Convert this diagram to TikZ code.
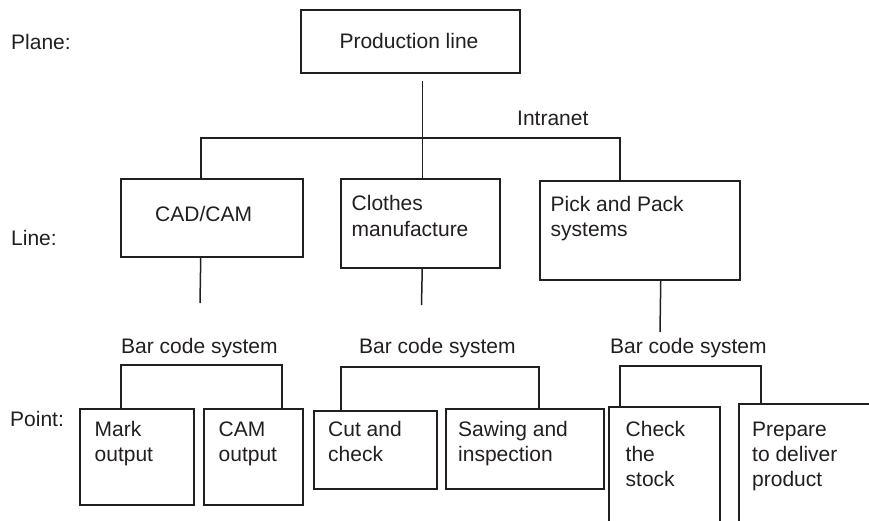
\documentclass[tikz,border=0pt]{standalone}
\usepackage{fontspec}
\setmainfont{Liberation Sans}
\usetikzlibrary{calc}
\definecolor{ink}{HTML}{231F20}
\tikzset{
  boxn/.style={draw=ink, line width=1.5pt, rectangle, inner sep=0pt, anchor=north west},
  txt/.style={text=ink, inner sep=0pt, align=left, anchor=base west, font=\fontsize{21}{25.3}\selectfont},
  wire/.style={draw=ink, line width=1.5pt}
}
\begin{document}
\begin{tikzpicture}[x=1pt,y=-1pt]
\clip (0,0) rectangle (869,520);
\fill[white] (0,0) rectangle (869,520);

% level labels
\node[txt] (planeL) at (11,49) {Plane:};
\node[txt] (lineL) at (11,245) {Line:};
\node[txt] (pointL) at (10,426) {Point:};

% boxes
\node[boxn, minimum width=219pt, minimum height=63pt] (prod) at (300,9) {};
\node[boxn, minimum width=182pt, minimum height=78pt] (cad) at (120,178) {};
\node[boxn, minimum width=159pt, minimum height=89pt] (clothes) at (340,178) {};
\node[boxn, minimum width=200pt, minimum height=99pt] (pick) at (539,180) {};
\node[boxn, minimum width=114pt, minimum height=96pt] (mark) at (79,408) {};
\node[boxn, minimum width=99pt, minimum height=96pt] (cam) at (203,408) {};
\node[boxn, minimum width=123pt, minimum height=78pt] (cut) at (313,410) {};
\node[boxn, minimum width=158pt, minimum height=80pt] (saw) at (445,408) {};
\node[boxn, minimum width=111pt, minimum height=130pt] (check) at (608,406) {};
\node[boxn, minimum width=150pt, minimum height=130pt] (prep) at (738,403) {};

% box texts (base = baseline of the last line)
\node[txt, anchor=base] (prodT) at (409,48.5) {Production line};
\node[txt] (cadT) at (155,221.5) {CAD/CAM};
\node[txt] (clothesT) at (351.5,236) {Clothes\\manufacture};
\node[txt] (pickT) at (550.5,236.3) {Pick and Pack\\systems};
\node[txt] (markT) at (94.5,461.8) {Mark\\output};
\node[txt] (camT) at (218.5,461.8) {CAM\\output};
\node[txt] (cutT) at (328,461.3) {Cut and\\check};
\node[txt] (sawT) at (458,461.3) {Sawing and\\inspection};
\node[txt] (checkT) at (625.5,486.6) {Check\\the\\stock};
\node[txt] (prepT) at (752,486.6) {Prepare\\to deliver\\product};

% network labels
\node[txt] (intranet) at (517,125) {Intranet};
\node[txt] (bar1) at (121,353) {Bar code system};
\node[txt] (bar2) at (359,353) {Bar code system};
\node[txt] (bar3) at (610,353) {Bar code system};

% intranet connectors
\draw[wire] ($(prod.south -| clothes.north)+(2,7)$) -- ($(clothes.north)+(2,0)$);
\draw[wire] ($(cad.north)+(-11,0)$) |- ($(pick.north)+(-20,-42)$) -- ($(pick.north)+(-20,0)$);

% drops to bar code systems
\coordinate (cadEnd) at (200,303);
\coordinate (clothesEnd) at (421.5,305);
\coordinate (pickEnd) at (660,332);
\draw[wire] ($(cad.south)+(-11,0)$) -- (cadEnd);
\draw[wire] ($(clothes.south)+(2,0)$) -- (clothesEnd);
\draw[wire] ($(pick.south)+(21,0)$) -- (pickEnd);

% bar code brackets
\draw[wire] ($(mark.north)+(-16,0)$) |- ($(cam.north)+(28.5,-43)$) -- ($(cam.north)+(28.5,0)$);
\draw[wire] ($(cut.north)+(-34.5,0)$) |- ($(saw.north)+(14,-41)$) -- ($(saw.north)+(14,0)$);
\draw[wire] ($(check.north)+(-44.5,0)$) |- ($(prep.north)+(-53,-37)$) -- ($(prep.north)+(-53,0)$);
\end{tikzpicture}
\end{document}
